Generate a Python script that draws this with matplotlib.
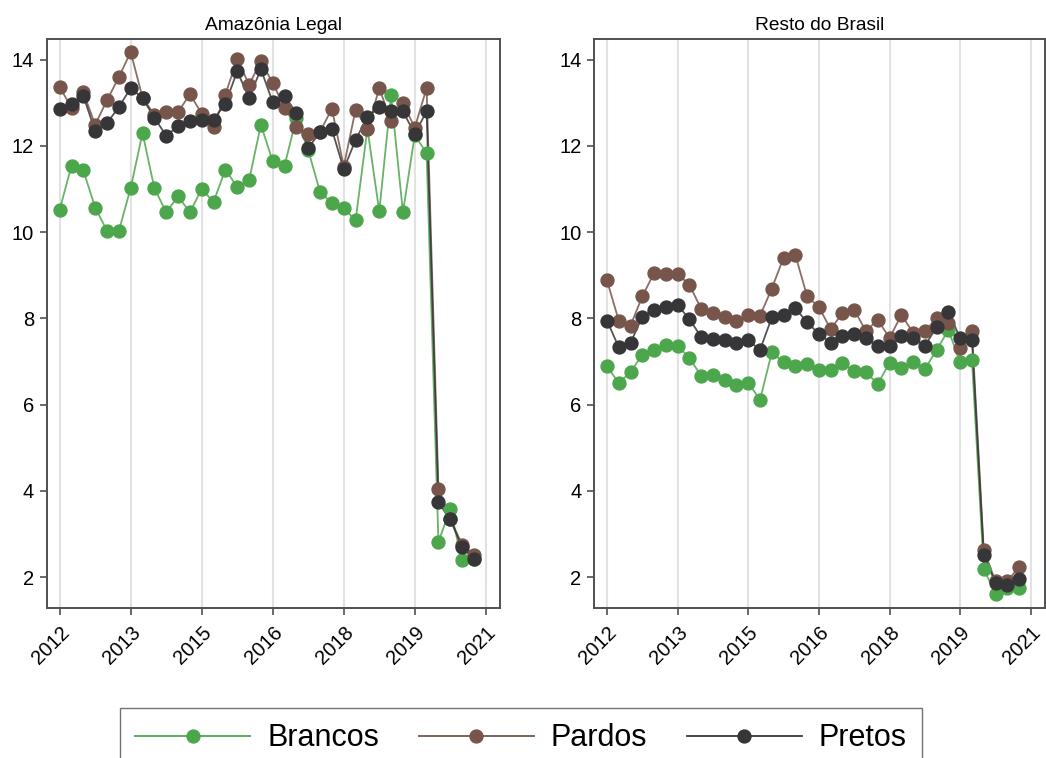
import matplotlib
matplotlib.use("Agg")
import matplotlib.pyplot as plt
import numpy as np

# quarterly series 2012q1 .. 2020q4
quarters = [f"{y}q{q}" for y in range(2012, 2021) for q in range(1, 5)]
tick_pos = [0, 6, 12, 18, 24, 30, 36]
tick_labels = ["2012", "2013", "2015", "2016", "2018", "2019", "2021"]

amz_brancos = [10.52, 11.54, 11.43, 10.57, 10.03, 10.03, 11.02, 12.30, 11.02, 10.46, 10.83, 10.46,
               11.00, 10.70, 11.45, 11.05, 11.20, 12.49, 11.64, 11.54, 12.65, 11.90, 10.93, 10.67,
               10.56, 10.27, 12.40, 10.48, 13.17, 10.46, 12.25, 11.83, 2.82, 3.57, 2.39, 2.42]
amz_pardos = [13.37, 12.88, 13.24, 12.49, 13.06, 13.59, 14.18, 13.12, 12.72, 12.78, 12.78, 13.20,
              12.75, 12.44, 13.19, 14.02, 13.42, 13.96, 13.46, 12.88, 12.44, 12.28, 12.33, 12.86,
              11.52, 12.84, 12.38, 13.34, 12.57, 13.00, 12.42, 13.34, 4.05, 3.35, 2.75, 2.51]
amz_pretos = [12.86, 12.98, 13.16, 12.34, 12.53, 12.90, 13.34, 13.11, 12.65, 12.24, 12.45, 12.57,
              12.59, 12.61, 12.98, 13.73, 13.11, 13.78, 13.01, 13.16, 12.76, 11.95, 12.32, 12.38,
              11.46, 12.14, 12.67, 12.90, 12.80, 12.80, 12.28, 12.80, 3.73, 3.34, 2.69, 2.42]

rest_brancos = [6.89, 6.50, 6.75, 7.16, 7.26, 7.39, 7.37, 7.08, 6.67, 6.69, 6.58, 6.46,
                6.51, 6.11, 7.21, 6.98, 6.89, 6.94, 6.81, 6.80, 6.97, 6.77, 6.75, 6.48,
                6.97, 6.85, 6.98, 6.82, 7.27, 7.73, 6.98, 7.04, 2.19, 1.61, 1.74, 1.74]
rest_pardos = [8.88, 7.95, 7.83, 8.51, 9.05, 9.03, 9.03, 8.78, 8.22, 8.12, 8.04, 7.95,
               8.08, 8.06, 8.69, 9.41, 9.47, 8.51, 8.26, 7.75, 8.12, 8.20, 7.70, 7.97,
               7.54, 8.08, 7.67, 7.70, 8.01, 7.89, 7.31, 7.70, 2.63, 1.90, 1.90, 2.24]
rest_pretos = [7.95, 7.33, 7.43, 8.04, 8.20, 8.26, 8.31, 7.98, 7.57, 7.53, 7.49, 7.42,
               7.49, 7.27, 8.02, 8.08, 8.23, 7.91, 7.64, 7.43, 7.60, 7.64, 7.54, 7.35,
               7.36, 7.60, 7.54, 7.36, 7.80, 8.15, 7.54, 7.50, 2.52, 1.86, 1.82, 1.96]

series_names = ["Brancos", "Pardos", "Pretos"]
colors = ["#4ca64c", "#77554a", "#363638"]

plt.rcParams["font.family"] = ["Liberation Sans", "DejaVu Sans"]

fig = plt.figure(figsize=(10.46, 7.58), dpi=100)
ax_l = fig.add_axes([0.0446, 0.1983, 0.4334, 0.7509])
ax_r = fig.add_axes([0.5679, 0.1983, 0.4311, 0.7509])

panels = [
    (ax_l, "Amazônia Legal", [amz_brancos, amz_pardos, amz_pretos]),
    (ax_r, "Resto do Brasil", [rest_brancos, rest_pardos, rest_pretos]),
]

x = np.arange(len(quarters))
for ax, title, data in panels:
    for vals, name, c in zip(data, series_names, colors):
        ax.plot(x, vals, color=c, lw=1.3, alpha=0.85, zorder=3)
        ax.plot(x, vals, ls="none", marker="o", ms=9.3, color=c, zorder=4, label=name)
    ax.set_xlim(-1.1, 37.2)
    ax.set_ylim(1.29, 14.49)
    ax.set_yticks([2, 4, 6, 8, 10, 12, 14])
    ax.set_xticks(tick_pos)
    ax.set_xticklabels(tick_labels, rotation=45, ha="right", rotation_mode="anchor")
    ax.grid(axis="x", color="#e2e2e2", lw=1.5, zorder=0)
    ax.set_axisbelow(True)
    for s in ax.spines.values():
        s.set_color("#505050")
        s.set_linewidth(1.4)
    ax.tick_params(axis="both", labelsize=14.5, color="#505050", width=1.2, length=5, pad=4)
    ax.tick_params(axis="x", pad=6)
    ax.set_title(title, fontsize=13.8, pad=6)

handles = [plt.Line2D([], [], color=c, lw=1.3, marker="o", ms=9.3) for c in colors]
fig.legend(handles, series_names, loc="upper center", bbox_to_anchor=(0.498, 0.066),
           ncol=3, fontsize=22, frameon=True, fancybox=False, edgecolor="#505050",
           handlelength=3.76, handletextpad=0.55, columnspacing=1.3, borderpad=0.5,
           borderaxespad=0)

fig.savefig("out.png", dpi=100)
